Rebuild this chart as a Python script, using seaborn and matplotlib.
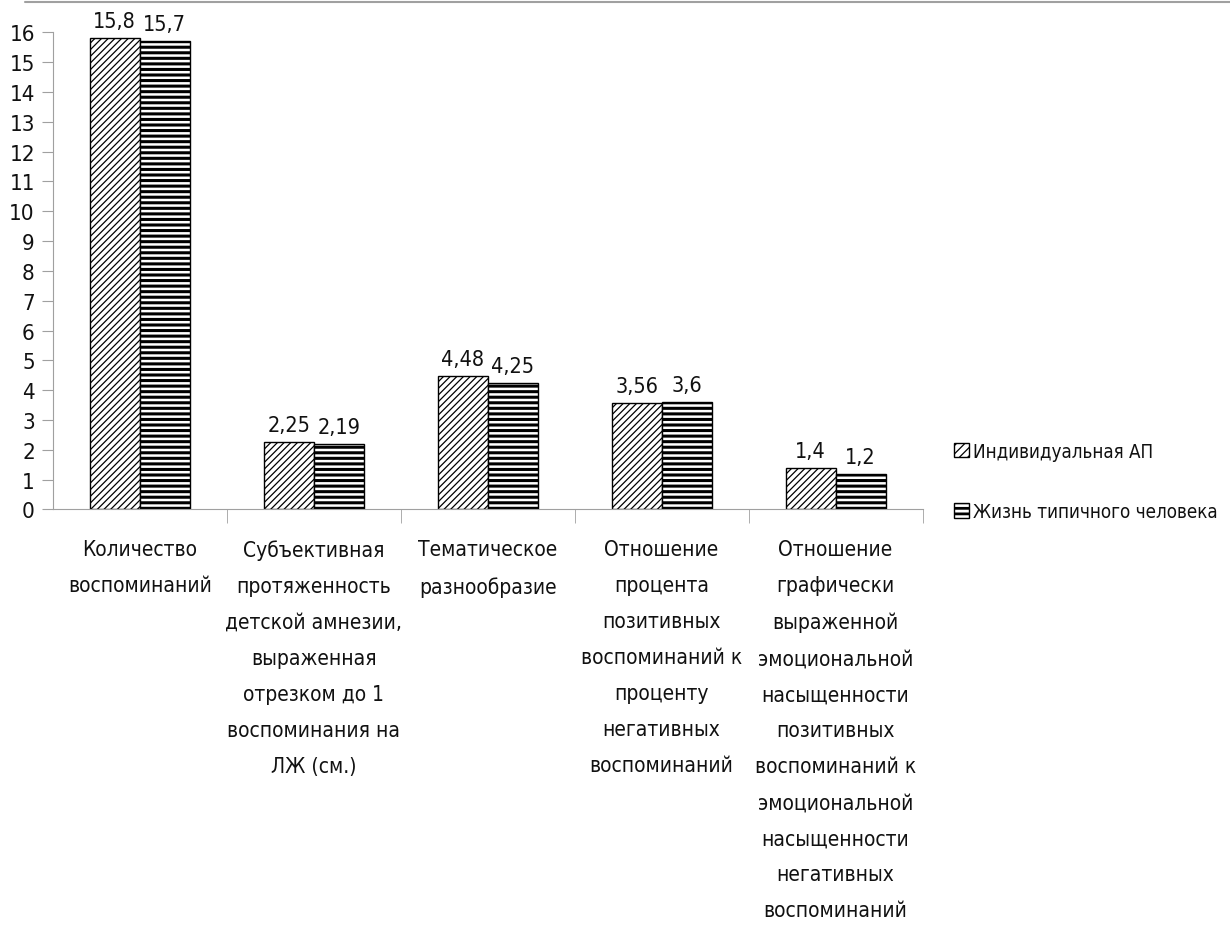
import pandas as pd
import matplotlib.pyplot as plt
import seaborn as sns
from matplotlib.patches import Patch
from matplotlib.lines import Line2D
from matplotlib.ticker import FixedLocator

# ── data ────────────────────────────────────────────
categories = [
    "Количество\nвоспоминаний",
    "Субъективная\nпротяженность\nдетской амнезии,\nвыраженная\nотрезком до 1\nвоспоминания на\nЛЖ (см.)",
    "Тематическое\nразнообразие",
    "Отношение\nпроцента\nпозитивных\nвоспоминаний к\nпроценту\nнегативных\nвоспоминаний",
    "Отношение\nграфически\nвыраженной\nэмоциональной\nнасыщенности\nпозитивных\nвоспоминаний к\nэмоциональной\nнасыщенности\nнегативных\nвоспоминаний",
]
series_names = ["Индивидуальная АП", "Жизнь типичного человека"]
individual = [15.8, 2.25, 4.48, 3.56, 1.4]
typical = [15.7, 2.19, 4.25, 3.6, 1.2]
individual_labels = ["15,8", "2,25", "4,48", "3,56", "1,4"]
typical_labels = ["15,7", "2,19", "4,25", "3,6", "1,2"]

df = pd.DataFrame({
    "category": categories * 2,
    "series": [series_names[0]] * 5 + [series_names[1]] * 5,
    "value": individual + typical,
})

# ── style ───────────────────────────────────────────
sns.set_style("white")
plt.rcParams['font.family'] = ['DejaVu Sans']
plt.rcParams['font.stretch'] = 'condensed'
plt.rcParams['hatch.linewidth'] = 0.9
txt_color = '#111111'
fs = 15

fig = plt.figure(figsize=(12.3, 9.28), dpi=100)
ax = fig.add_axes([0.043, 0.45, 0.707, 0.514])

sns.barplot(data=df, x="category", y="value", hue="series",
            palette=["white", "white"], width=0.575, saturation=1,
            edgecolor="black", linewidth=1.0, legend=False, ax=ax)

hatches = ['/////', '---']
hatch_lw = [0.9, 2.2]
for cont, h, hl in zip(ax.containers, hatches, hatch_lw):
    for bar in cont:
        bar.set_hatch(h)
        if hasattr(bar, 'set_hatch_linewidth'):
            bar.set_hatch_linewidth(hl)
ax.bar_label(ax.containers[0], labels=individual_labels, padding=5,
             fontsize=fs + 0.5, color=txt_color)
ax.bar_label(ax.containers[1], labels=typical_labels, padding=5,
             fontsize=fs + 0.5, color=txt_color)

ax.set_ylim(0, 16)
ax.set_xlim(-0.5, 4.5)
ax.set_yticks(range(0, 17))
ax.set_xlabel("")
ax.set_ylabel("")
for s in ['top', 'right']:
    ax.spines[s].set_visible(False)
ax.spines['left'].set_color('#a0a0a0')
ax.spines['bottom'].set_color('#a0a0a0')
ax.tick_params(axis='y', left=True, length=8, color='#a0a0a0',
               labelsize=fs + 1, labelcolor=txt_color, pad=5)
ax.tick_params(axis='x', bottom=False, labelsize=fs, labelcolor=txt_color, pad=18)
for lab in ax.get_xticklabels():
    lab.set_linespacing(2.0)
    lab.set_verticalalignment('top')
ax.xaxis.set_minor_locator(FixedLocator([0.5, 1.5, 2.5, 3.5, 4.5]))
ax.tick_params(axis='x', which='minor', bottom=True, length=10,
               color='#a0a0a0', direction='out')

# legend
handles = [Patch(facecolor='white', edgecolor='black', hatch=h) for h in ['////', '---']]
leg = fig.legend(handles, series_names, loc='upper left',
                 bbox_to_anchor=(0.762, 0.541), frameon=False, fontsize=13.5,
                 handlelength=0.8, handleheight=0.8, handletextpad=0.2,
                 labelspacing=2.2, labelcolor=txt_color)
for p in leg.get_patches()[1:]:
    if hasattr(p, 'set_hatch_linewidth'):
        p.set_hatch_linewidth(2.0)

# thin grey line along the top edge
fig.add_artist(Line2D([0.02, 1.0], [0.997, 0.997], color='#a0a0a0', lw=1.5,
                      transform=fig.transFigure))

fig.savefig('out.png', dpi=100)
